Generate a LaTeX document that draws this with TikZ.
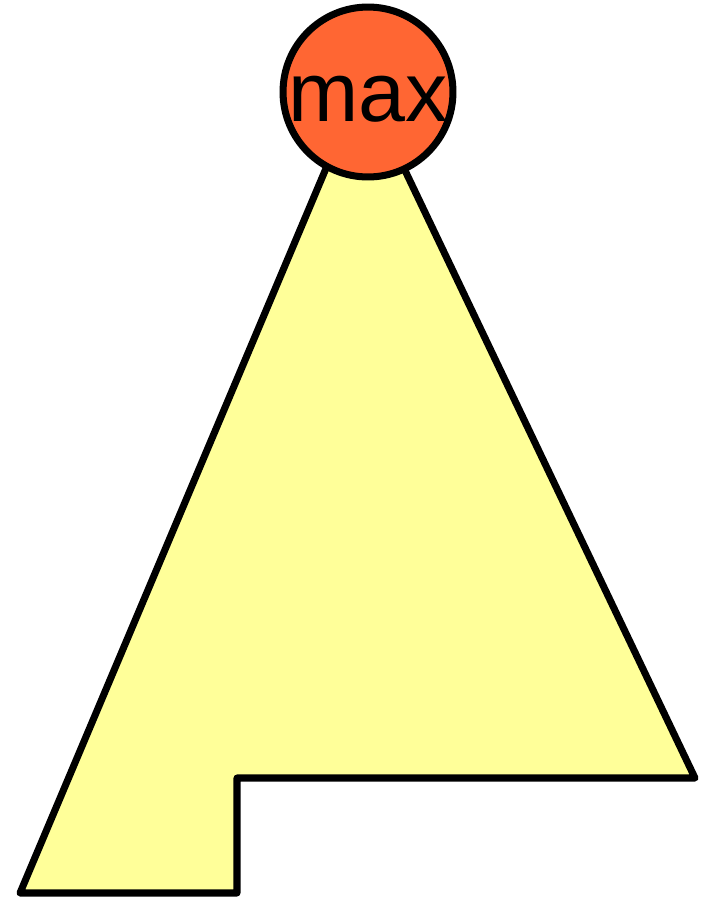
\documentclass[tikz,border=0pt]{standalone}
\usepackage{fontspec}
\setmainfont{Liberation Sans}
\usepackage{tikz}

\definecolor{treefill}{HTML}{FFFF99}
\definecolor{rootfill}{HTML}{FF6633}

\begin{document}
\begin{tikzpicture}[x=0.02cm, y=-0.02cm, line width=4pt, line join=round,
	rootnode/.style={circle, draw, fill=rootfill, inner sep=0pt, minimum size=3.36cm, text height=34pt, text depth=0pt, font=\fontsize{48}{52}\selectfont}]
	\useasboundingbox (0,0) rectangle (710,900);
	\coordinate (apexl) at (357,95);
	\coordinate (apexr) at (369,95);
	\coordinate (right) at (695,778);
	\coordinate (notch) at (237,778);
	\coordinate (notchbot) at (237,893);
	\coordinate (left) at (20,893);
	\draw[fill=treefill] (apexr) -- (right) -- (notch) -- (notchbot) -- (left) -- (apexl) -- cycle;
	\node[rootnode] (max) at (368,92) {max};
\end{tikzpicture}
\end{document}
